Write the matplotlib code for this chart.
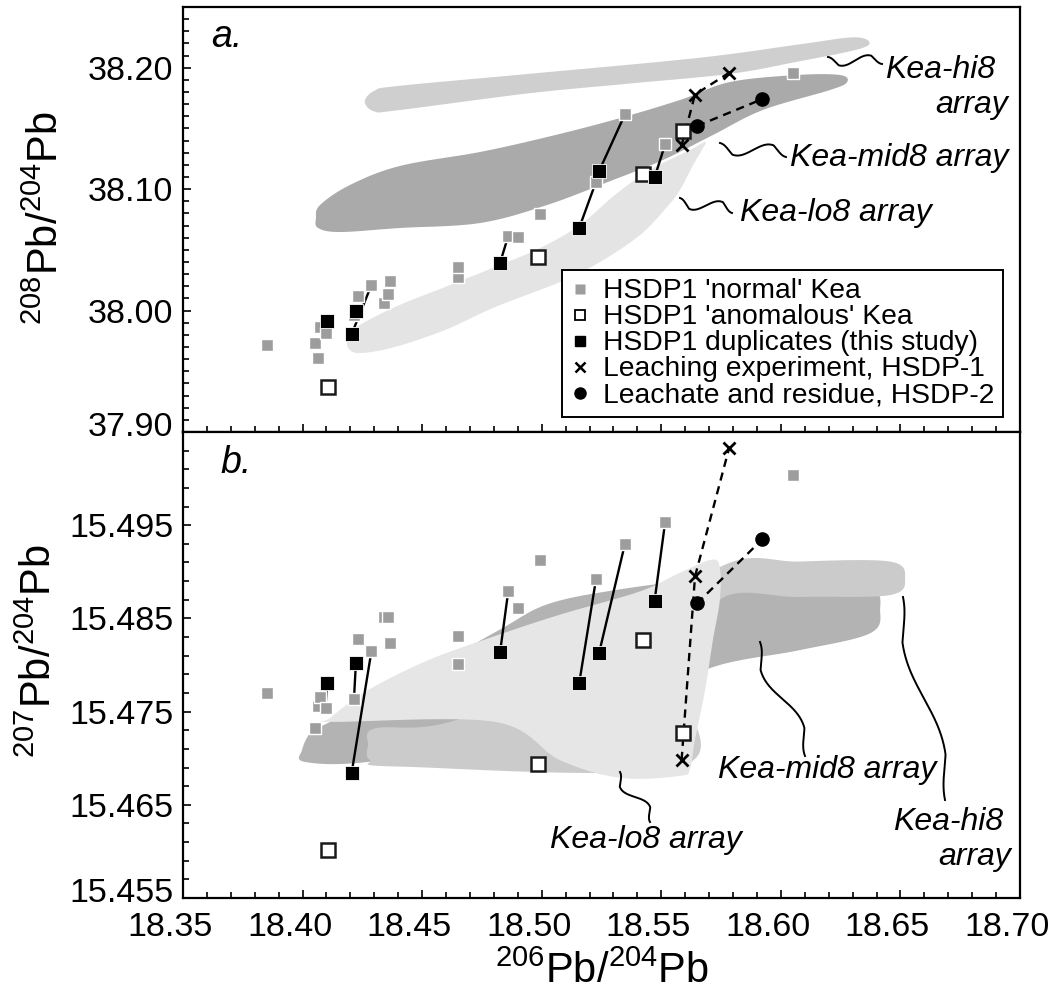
import matplotlib
matplotlib.use('Agg')
import matplotlib.pyplot as plt
import numpy as np
from matplotlib.lines import Line2D
from matplotlib.patches import Polygon
from matplotlib.ticker import FixedLocator, FormatStrFormatter
from matplotlib.transforms import ScaledTranslation

plt.rcParams['font.family'] = ['Liberation Sans', 'DejaVu Sans']
plt.rcParams['mathtext.fontset'] = 'custom'
plt.rcParams['mathtext.rm'] = 'Liberation Sans'
plt.rcParams['mathtext.it'] = 'Liberation Sans:italic'
plt.rcParams['mathtext.bf'] = 'Liberation Sans:bold'

# ---------------- data ----------------
# HSDP1 'normal' Kea
normal_206 = [18.385, 18.405, 18.4065, 18.4073, 18.4096, 18.4215, 18.4232, 18.4288, 18.4342, 18.4357,
              18.4366, 18.4651, 18.4651, 18.486, 18.4901, 18.4993, 18.5227, 18.5348, 18.5516, 18.6051]
normal_208 = [37.972, 37.973, 37.961, 37.9865, 37.9818, 37.9964, 38.0122, 38.0211, 38.006, 38.0136,
              38.0246, 38.0279, 38.0356, 38.0614, 38.0608, 38.0793, 38.1061, 38.1616, 38.1369, 38.1959]
normal_207 = [15.4770, 15.4732, 15.4756, 15.4766, 15.4754, 15.4764, 15.4828, 15.4815, 15.4851, 15.4852,
              15.4824, 15.4801, 15.4831, 15.4879, 15.4861, 15.4913, 15.4892, 15.4930, 15.4953, 15.5004]
# HSDP1 duplicates (this study) and the index of the matching 'normal' sample
dup_206 = [18.4102, 18.4223, 18.4205, 18.4826, 18.5157, 18.5240, 18.5472]
dup_208 = [37.9914, 37.9996, 37.9805, 38.0394, 38.0682, 38.1149, 38.1096]
dup_207 = [15.4781, 15.4802, 15.4684, 15.4814, 15.4781, 15.4813, 15.4869]
dup_pair = [4, 5, 7, 13, 16, 17, 18]
# HSDP1 'anomalous' Kea
anom_206 = [18.4106, 18.4986, 18.5425, 18.5589]
anom_208 = [37.9368, 38.0444, 38.1125, 38.1481]
anom_207 = [15.4602, 15.4694, 15.4827, 15.4727]
# Leaching experiment, HSDP-1
leach_206 = [18.5585, 18.5641, 18.5784]
leach_208 = [38.1361, 38.1779, 38.1959]
leach_207 = [15.4698, 15.4895, 15.5033]
# Leachate and residue, HSDP-2
res_206 = [18.5649, 18.5923]
res_208 = [38.1520, 38.1742]
res_207 = [15.4866, 15.4935]

# array fields (outline vertices, data units)
hi8_a = [(18.426, 38.172), (18.430, 38.181), (18.440, 38.185), (18.495, 38.195), (18.565, 38.208),
         (18.607, 38.219), (18.630, 38.225), (18.637, 38.221), (18.632, 38.215), (18.607, 38.205),
         (18.579, 38.195), (18.537, 38.187), (18.495, 38.179), (18.440, 38.165), (18.430, 38.164)]
mid8_a = [(18.4056, 38.0762), (18.4073, 38.0869), (18.4198, 38.1034), (18.4407, 38.1191), (18.4742, 38.1306),
          (18.5022, 38.1429), (18.5298, 38.1569), (18.5578, 38.1734), (18.5787, 38.1882), (18.6068, 38.1940),
          (18.6247, 38.1940), (18.6277, 38.1882), (18.6205, 38.1816), (18.5925, 38.1652), (18.5716, 38.1446),
          (18.5507, 38.1240), (18.5298, 38.1075), (18.5022, 38.0869), (18.4742, 38.0721), (18.4407, 38.0680),
          (18.4157, 38.0647), (18.4065, 38.0680)]
lo8_a = [(18.4186, 37.9758), (18.4219, 37.9856), (18.4386, 38.0029), (18.4596, 38.0194), (18.4805, 38.0359),
         (18.4993, 38.0515), (18.5160, 38.0705), (18.5306, 38.0952), (18.5453, 38.1158), (18.5620, 38.1322),
         (18.5683, 38.1388), (18.5670, 38.1322), (18.5633, 38.1199), (18.5578, 38.0993), (18.5524, 38.0853),
         (18.5411, 38.0622), (18.5244, 38.0400), (18.5076, 38.0235), (18.4805, 38.0029), (18.4596, 37.9840),
         (18.4386, 37.9700), (18.4249, 37.9651), (18.4198, 37.9675)]
mid8_b = [(18.3998, 15.4709), (18.4039, 15.4729), (18.4123, 15.4740), (18.4491, 15.4790), (18.4825, 15.4838),
          (18.5022, 15.4865), (18.5298, 15.4880), (18.5662, 15.4891), (18.6080, 15.4891), (18.6373, 15.4883),
          (18.6415, 15.4859), (18.6373, 15.4834), (18.6080, 15.4816), (18.5745, 15.4800), (18.5453, 15.4770),
          (18.4825, 15.4720), (18.4274, 15.4696), (18.4010, 15.4696)]
hi8_b = [(18.4274, 15.4714), (18.4303, 15.4732), (18.4616, 15.4739), (18.5244, 15.4800), (18.5745, 15.4905),
         (18.6080, 15.4911), (18.6456, 15.4911), (18.6519, 15.4893), (18.6456, 15.4875), (18.6080, 15.4873),
         (18.5745, 15.4870), (18.5600, 15.4780), (18.5578, 15.4691), (18.4407, 15.4691), (18.4282, 15.4698)]
lo8_b = [(18.4115, 15.4743), (18.4274, 15.4773), (18.4524, 15.4805), (18.4804, 15.4831), (18.5076, 15.4854),
         (18.5411, 15.4879), (18.5578, 15.4899), (18.5712, 15.4913), (18.5745, 15.4904), (18.5745, 15.4870),
         (18.5716, 15.4827), (18.5683, 15.4773), (18.5641, 15.4720), (18.5620, 15.4689), (18.5578, 15.4681),
         (18.5327, 15.4679), (18.5076, 15.4698), (18.4804, 15.4739), (18.4119, 15.4739)]

x_ticks = [18.35, 18.40, 18.45, 18.50, 18.55, 18.60, 18.65, 18.70]
ya_ticks = [37.90, 38.00, 38.10, 38.20]
yb_ticks = [15.455, 15.465, 15.475, 15.485, 15.495]

legend_labels = ["HSDP1 'normal' Kea", "HSDP1 'anomalous' Kea", "HSDP1 duplicates (this study)",
                 "Leaching experiment, HSDP-1", "Leachate and residue, HSDP-2"]

# ---------------- figure ----------------
W, H = 1050, 996
fig = plt.figure(figsize=(W / 100, H / 100), dpi=100)
L, R = 183, 1020
TOP, MID, BOT = 7, 432, 898
axa = fig.add_axes([L / W, 1 - MID / H, (R - L) / W, (MID - TOP) / H])
axb = fig.add_axes([L / W, 1 - BOT / H, (R - L) / W, (BOT - MID) / H])

C_HI, C_MID, C_LO = '#cfcfcf', '#aaaaaa', '#e4e4e4'
C_HI_B, C_MID_B, C_LO_B = '#cbcbcb', '#b3b3b3', '#e6e6e6'


def smooth_closed(pts, n=24):
    p = np.array(pts, dtype=float)
    m = len(p)
    out = []
    for i in range(m):
        p0, p1, p2, p3 = p[i - 1], p[i], p[(i + 1) % m], p[(i + 2) % m]
        t = np.linspace(0, 1, n, endpoint=False)[:, None]
        seg = 0.5 * ((2 * p1) + (-p0 + p2) * t + (2 * p0 - 5 * p1 + 4 * p2 - p3) * t ** 2
                     + (-p0 + 3 * p1 - 3 * p2 + p3) * t ** 3)
        out.append(seg)
    return np.vstack(out)


def field(ax, pts, color, z):
    ax.add_patch(Polygon(smooth_closed(pts), closed=True, facecolor=color, edgecolor='none', zorder=z))


def draw_points(ax, yn, yd, ya, yl, yr):
    for k, j in enumerate(dup_pair):
        ax.plot([dup_206[k], normal_206[j]], [yd[k], yn[j]], color='black', lw=1.7, zorder=3)
    ax.plot(leach_206, yl, color='black', lw=1.7, ls=(0, (3.5, 2.5)), zorder=3)
    ax.plot(res_206, yr, color='black', lw=1.7, ls=(0, (3.5, 2.5)), zorder=3)
    ax.plot(normal_206, yn, ls='', marker='s', ms=8.5, mfc='#9d9d9d', mec='white', mew=1.0, zorder=4)
    ax.plot(anom_206, ya, ls='', marker='s', ms=10, mfc='white', mec='#1a1a1a', mew=1.8, zorder=5)
    ax.plot(dup_206, yd, ls='', marker='s', ms=9.5, mfc='black', mec='white', mew=0.6, zorder=6)
    ax.plot(leach_206, yl, ls='', marker='x', ms=8, mec='black', mew=2.0, zorder=7)
    ax.plot(res_206, yr, ls='', marker='o', ms=9.5, mfc='black', mec='black', zorder=7)


# panel a
field(axa, lo8_a, C_LO, 1)
field(axa, hi8_a, C_HI, 1.1)
field(axa, mid8_a, C_MID, 1.2)
draw_points(axa, normal_208, dup_208, anom_208, leach_208, res_208)

# panel b
field(axb, mid8_b, C_MID_B, 1)
field(axb, hi8_b, C_HI_B, 1.1)
field(axb, lo8_b, C_LO_B, 1.2)
draw_points(axb, normal_207, dup_207, anom_207, leach_207, res_207)

for ax in (axa, axb):
    ax.set_xlim(18.35, 18.70)
    ax.xaxis.set_major_locator(FixedLocator(x_ticks))
    ax.xaxis.set_minor_locator(FixedLocator(np.arange(18.35, 18.7001, 0.01)))
    ax.xaxis.set_major_formatter(FormatStrFormatter('%.2f'))
    for s in ax.spines.values():
        s.set_linewidth(1.6)
    ax.tick_params(which='both', direction='in', top=False, right=False, width=1.2, labelsize=24.5)
    ax.tick_params(which='major', length=6, pad=7)
    ax.tick_params(which='minor', length=4)

axa.set_ylim(37.90, 38.25)
axa.yaxis.set_major_locator(FixedLocator(ya_ticks))
axa.yaxis.set_minor_locator(FixedLocator(np.arange(37.90, 38.2501, 0.01)))
axa.yaxis.set_major_formatter(FormatStrFormatter('%.2f'))
axa.tick_params(axis='x', labelbottom=False)

axb.set_ylim(15.455, 15.505)
axb.yaxis.set_major_locator(FixedLocator(yb_ticks))
axb.yaxis.set_minor_locator(FixedLocator(np.arange(15.455, 15.5051, 0.002)))
axb.yaxis.set_major_formatter(FormatStrFormatter('%.3f'))
axb.tick_params(axis='x', pad=10)

axa.set_ylabel(r'$^{208}$Pb/$^{204}$Pb', fontsize=30)
axb.set_ylabel(r'$^{207}$Pb/$^{204}$Pb', fontsize=30)
axa.yaxis.set_label_coords(-0.138, 0.503)
axb.yaxis.set_label_coords(-0.147, 0.53)
axb.set_xlabel(r'$^{206}$Pb/$^{204}$Pb', fontsize=30, labelpad=6)

# nudge tick labels like the reference (x labels slightly left, lowest y labels slightly up)
xshift = ScaledTranslation(-13 / 100, 0, fig.dpi_scale_trans)
for lab in axb.get_xticklabels():
    lab.set_transform(lab.get_transform() + xshift)
yshift = ScaledTranslation(0, 8 / 100, fig.dpi_scale_trans)
for ax in (axa, axb):
    labs = ax.get_yticklabels()
    labs[0].set_transform(labs[0].get_transform() + yshift)


def frac(ax, px, py):
    top, bot = (TOP, MID) if ax is axa else (MID, BOT)
    return (px - L) / (R - L), (bot - py) / (bot - top)


def wiggle(ax, p0, p1, amp=9.0):
    x0, y0 = p0
    x1, y1 = p1
    t = np.linspace(0, 1, 200)
    dx, dy = x1 - x0, y1 - y0
    ln = np.hypot(dx, dy)
    nx, ny = -dy / ln, dx / ln
    env = np.clip(np.sin(np.pi * t) * 1.6, 0, 1)
    off = amp * np.sin(2 * np.pi * t) * env
    px = x0 + dx * t + nx * off
    py = y0 + dy * t + ny * off
    fx, fy = frac(ax, px, py)
    ax.plot(fx, fy, transform=ax.transAxes, color='black', lw=1.4, zorder=8, clip_on=False)


def label(ax, px, py, s, size=23, style='italic'):
    fx, fy = frac(ax, px, py)
    ax.text(fx, fy, s, transform=ax.transAxes, fontsize=size, style=style, ha='left', va='center',
            zorder=9, clip_on=False)


# leaders and array labels, panel a
wiggle(axa, (828, 57), (882, 64), 7)
wiggle(axa, (720, 143), (786, 157), 9)
wiggle(axa, (680, 198), (732, 213), 8)
label(axa, 885, 70, 'Kea-hi8')
label(axa, 935, 105, 'array')
label(axa, 790, 158, 'Kea-mid8 array')
label(axa, 740, 213, 'Kea-lo8 array')
label(axa, 211, 37, 'a.', size=27)

# panel b
wiggle(axb, (903, 597), (945, 800), 10)
wiggle(axb, (760, 642), (805, 756), 10)
wiggle(axb, (620, 772), (650, 822), 8)
label(axb, 893, 822, 'Kea-hi8')
label(axb, 938, 857, 'array')
label(axb, 718, 770, 'Kea-mid8 array')
label(axb, 550, 840, 'Kea-lo8 array')
label(axb, 220, 463, 'b.', size=27)

# legend
handles = [
    Line2D([], [], ls='', marker='s', ms=6.5, mfc='#9d9d9d', mec='none'),
    Line2D([], [], ls='', marker='s', ms=7.5, mfc='white', mec='black', mew=1.3),
    Line2D([], [], ls='', marker='s', ms=7.5, mfc='black', mec='black'),
    Line2D([], [], ls='', marker='x', ms=6.5, mec='black', mew=1.8),
    Line2D([], [], ls='', marker='o', ms=8, mfc='black', mec='black'),
]
fx0, fy0 = frac(axa, 562, 270)
leg = axa.legend(handles, legend_labels, loc='upper left', bbox_to_anchor=(fx0, fy0), borderaxespad=0,
                 fontsize=20.3, handlelength=0.7, handletextpad=0.45, labelspacing=0.0, borderpad=0.3,
                 frameon=True, fancybox=False, edgecolor='black', framealpha=1)
leg.get_frame().set_linewidth(1.4)
leg.set_zorder(10)

fig.savefig('out.png', dpi=100)
